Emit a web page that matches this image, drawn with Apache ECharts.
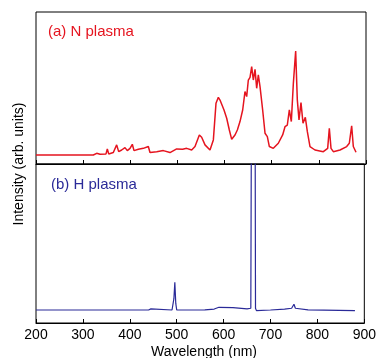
<!DOCTYPE html>
<html><head><meta charset="utf-8">
<script src="https://cdn.jsdelivr.net/npm/echarts@6/dist/echarts.min.js"></script>
<style>html,body{margin:0;padding:0;background:#fff}#c{width:379px;height:358px}</style>
</head><body><div id="c"></div>
<script>
// N plasma spectrum (panel a)
const nWavelength = [200,321.6,328.7,335.8,348.5,351.3,354.2,364,371.1,375.4,381.7,388.8,393.7,399.4,404.3,407.9,417.1,427.7,438.3,441.8,456,470.1,484.2,498.4,511.1,519.6,530.2,537.3,546.5,551.4,558.5,569.1,576.2,581.8,586.8,590.3,593.8,598.8,604.5,610.1,615.1,622.1,627.1,632.7,638.4,643.3,646.9,650.4,654,657.5,661,664.6,668.1,671.6,675.2,680.8,685.8,690.7,695,703.4,714,723.2,728.2,733.1,737.4,741.6,745.9,750.8,754.3,757.9,762.1,766.4,771.3,775.6,781.2,791.8,809.5,818.7,822.2,825.8,830.7,844.9,859,864.6,869.6,873.1,878.8];
const nIntensity  = [0.053,0.053,0.064,0.058,0.060,0.093,0.060,0.069,0.120,0.075,0.086,0.102,0.082,0.097,0.124,0.082,0.091,0.097,0.109,0.069,0.075,0.082,0.069,0.093,0.091,0.097,0.086,0.109,0.186,0.171,0.120,0.086,0.153,0.396,0.436,0.418,0.418,0.352,0.297,0.219,0.157,0.186,0.219,0.275,0.352,0.474,0.441,0.551,0.569,0.640,0.551,0.622,0.496,0.585,0.507,0.352,0.197,0.175,0.109,0.097,0.131,0.186,0.241,0.252,0.352,0.275,0.529,0.744,0.419,0.286,0.401,0.264,0.303,0.208,0.109,0.086,0.075,0.097,0.230,0.097,0.075,0.086,0.109,0.131,0.246,0.109,0.071];
// H plasma spectrum (panel b)
const hWavelength = [200,278,279,280,440,445,447,490,494,496,498,500,560,580,590,620,650,658,661,666,668,670,700,730,745,750,753,780,880];
const hIntensity  = [0.079,0.079,0.072,0.079,0.079,0.086,0.079,0.079,0.15,0.2525,0.12,0.079,0.080,0.085,0.096,0.094,0.086,0.09,3,3,0.09,0.075,0.079,0.085,0.09,0.115,0.09,0.08,0.075];
const xTicks = [200,300,400,500,600,700,800,900];

const pairs = (xs, ys) => xs.map((x, i) => [x, ys[i]]);
const xMin = xTicks[0], xMax = xTicks[xTicks.length - 1], xStep = xTicks[1] - xTicks[0];
const font = 'Liberation Sans, Arial, sans-serif';
const red = '#e5141f', blue = '#2a2a98';

const chart = echarts.init(document.getElementById('c'), null, {renderer: 'canvas'});
const baseX = (gi, showLabel) => ({
  type: 'value', gridIndex: gi, min: xMin, max: xMax, interval: xStep,
  axisLine: {show: true, onZero: false, lineStyle: {color: '#000', width: 1}},
  axisTick: {show: true, inside: true, length: 4, lineStyle: {color: '#000'}},
  axisLabel: {show: showLabel, color: '#000', fontSize: 14, fontFamily: font, margin: 5},
  splitLine: {show: false}
});
const baseY = (gi, mn, mx) => ({
  type: 'value', gridIndex: gi, min: mn, max: mx,
  axisLine: {show: false}, axisTick: {show: false}, axisLabel: {show: false}, splitLine: {show: false}
});
chart.setOption({
  animation: false,
  backgroundColor: '#fff',
  grid: [
    {left: 36, top: 12, width: 330, height: 152, show: true, borderColor: '#000', borderWidth: 1, backgroundColor: 'transparent'},
    {left: 36, top: 164, width: 330, height: 159, show: true, borderColor: '#000', borderWidth: 1, backgroundColor: 'transparent'}
  ],
  xAxis: [baseX(0, false), baseX(1, true)],
  yAxis: [baseY(0, -0.007, 1.003), baseY(1, -0.0025, 0.994)],
  series: [
    {type: 'line', xAxisIndex: 0, yAxisIndex: 0, data: pairs(nWavelength, nIntensity), showSymbol: false, clip: true,
     lineStyle: {color: red, width: 1.5}},
    {type: 'line', xAxisIndex: 1, yAxisIndex: 1, data: pairs(hWavelength, hIntensity), showSymbol: false, clip: true,
     lineStyle: {color: blue, width: 1.2}}
  ],
  graphic: [
    {type: 'text', left: 48, top: 24, style: {text: '(a) N plasma', fill: red, font: '15px ' + font}},
    {type: 'text', left: 51, top: 177, style: {text: '(b) H plasma', fill: blue, font: '15px ' + font}},
    {type: 'text', x: 19, y: 164, rotation: Math.PI / 2,
     style: {text: 'Intensity (arb. units)', fill: '#000', font: '14px ' + font, align: 'center', verticalAlign: 'middle'}},
    {type: 'text', x: 204, y: 352, style: {text: 'Wavelength (nm)', fill: '#000', font: '14px ' + font, align: 'center', verticalAlign: 'middle'}}
  ]
});
</script></body></html>
